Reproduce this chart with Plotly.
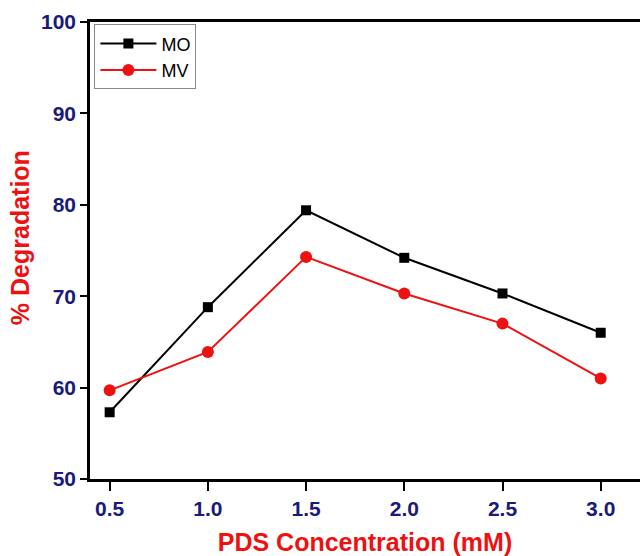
import plotly.graph_objects as go

pds = [0.5, 1.0, 1.5, 2.0, 2.5, 3.0]
mo = [57.3, 68.8, 79.4, 74.2, 70.3, 66.0]
mv = [59.7, 63.9, 74.3, 70.3, 67.0, 61.0]
x_ticks = [0.5, 1.0, 1.5, 2.0, 2.5, 3.0]
y_ticks = [50, 60, 70, 80, 90, 100]

navy = "#1a1a7a"
red = "#ee1111"
fam = "Liberation Sans, Arial, sans-serif"

fig = go.Figure()
fig.add_trace(go.Scatter(x=pds, y=mo, mode="lines+markers", name="MO",
                         line=dict(color="black", width=2),
                         marker=dict(symbol="square", size=10, color="black")))
fig.add_trace(go.Scatter(x=pds, y=mv, mode="lines+markers", name="MV",
                         line=dict(color=red, width=2),
                         marker=dict(symbol="circle", size=12, color=red)))

fig.update_layout(
    width=640, height=556,
    margin=dict(l=90, r=0, t=22, b=77),
    paper_bgcolor="white", plot_bgcolor="white",
    font=dict(family=fam),
    legend=dict(x=0.008, y=0.995, xanchor="left", yanchor="top",
                bordercolor="#888888", borderwidth=1, bgcolor="white",
                font=dict(size=18, color="black"), tracegroupgap=0,
                itemwidth=56),
    xaxis=dict(range=[0.4, 3.2], tickvals=x_ticks,
               ticktext=[f"{v:.1f}" for v in x_ticks],
               showgrid=False, zeroline=False,
               showline=True, linecolor="black", linewidth=2.5, mirror=True,
               ticks="outside", ticklen=9, tickwidth=2, tickcolor="black",
               tickfont=dict(size=21, color=navy, family=fam, weight="bold"),
               title=dict(text="PDS Concentration (mM)", standoff=16,
                          font=dict(size=25, color=red, family=fam, weight="bold"))),
    yaxis=dict(range=[50, 100], tickvals=y_ticks,
               showgrid=False, zeroline=False,
               showline=True, linecolor="black", linewidth=2.5,
               ticks="outside", ticklen=7, tickwidth=2, tickcolor="black",
               tickfont=dict(size=21, color=navy, family=fam, weight="bold")),
    annotations=[dict(text="% Degradation", xref="paper", yref="paper",
                      x=0, y=0.527, xanchor="center", yanchor="middle",
                      xshift=-70, textangle=-90, showarrow=False,
                      font=dict(size=25, color=red, family=fam, weight="bold"))],
)

fig.write_html("out.html")
